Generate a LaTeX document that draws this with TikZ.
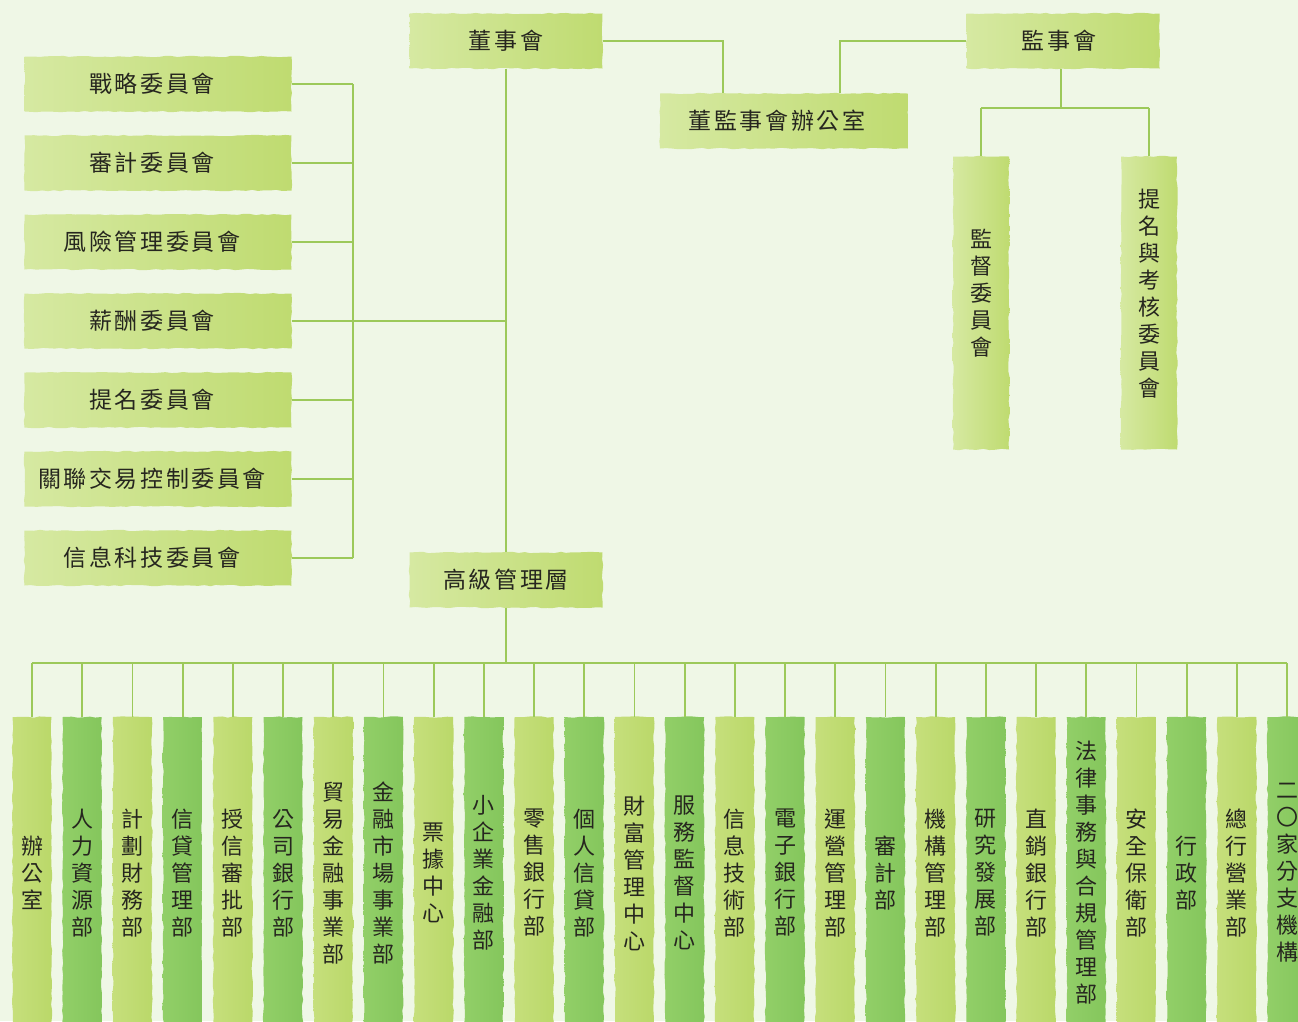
\documentclass[tikz,border=0pt]{standalone}
\usepackage{fontspec}
\setmainfont{Noto Sans CJK TC}
\usetikzlibrary{decorations.pathmorphing}
\definecolor{bg}{HTML}{EFF7E6}
\definecolor{ln}{HTML}{9CC95A}
\definecolor{txt}{HTML}{26261F}
\definecolor{hbL}{HTML}{D6E9A2}
\definecolor{hbR}{HTML}{BFDB70}
\definecolor{clL}{HTML}{C6DF7C}
\definecolor{clM}{HTML}{D6E898}
\definecolor{clR}{HTML}{BAD869}
\definecolor{cdL}{HTML}{92CF68}
\definecolor{cdM}{HTML}{AAD985}
\definecolor{cdR}{HTML}{84C65C}
\newcommand{\hfnt}{\fontsize{23pt}{27pt}\selectfont\addfontfeature{LetterSpace=11}}
\newcommand{\vfnt}{\fontsize{22pt}{27pt}\selectfont}
\newcommand{\lsh}[2]{\hspace*{-#1pt}#2}
\begin{document}
\begin{tikzpicture}[x=1pt,y=-1pt,
  rough/.style={decorate,decoration={random steps,segment length=6pt,amplitude=0.7pt}},
  hbox/.style={rough,left color=hbL,right color=hbR,minimum width=193pt,minimum height=55pt,
    inner sep=0pt,font=\hfnt,text=txt},
  cbox/.style={hbox,minimum width=267pt},
  vbox/.style={rough,left color=hbL,right color=hbR,minimum width=56pt,minimum height=293pt,
    inner sep=0pt,font=\vfnt,text=txt,align=center},
  colL/.style={rough,left color=clL,middle color=clM,right color=clR,minimum width=39pt,minimum height=312pt,
    inner sep=0pt,font=\vfnt,text=txt,align=center},
  colD/.style={colL,left color=cdL,middle color=cdM,right color=cdR},
  conn/.style={draw=ln,line width=1.8pt}]
\fill[bg] (0,0) rectangle (1298,1021);
\useasboundingbox (0,0) rectangle (1298,1021);

% top level
\node[hbox] (dsh) at (506,41) {董事會};
\node[hbox,minimum width=248pt] (ofc) at (784,121) {\lsh{14}{董監事會辦公室}};
\node[hbox] (jsh) at (1063,41) {\lsh{8}{監事會}};
\node[hbox] (gm) at (506,580) {高級管理層};

% committees
\foreach \t [count=\i] in {戰略委員會,審計委員會,風險管理委員會,薪酬委員會,提名委員會,關聯交易控制委員會,信息科技委員會}{
  \node[cbox] (c\i) at (158,{84+(\i-1)*79}) {\lsh{12}{\t}};
}

% supervisory committees
\node[vbox] (s1) at (981,303) {監\\督\\委\\員\\會\\[-6pt]\mbox{}};
\node[vbox] (s2) at (1149,303) {提\\名\\與\\考\\核\\委\\員\\會\\[-6pt]\mbox{}};

% departments
\foreach \t [count=\i] in {
  {辦\\公\\室},{人\\力\\資\\源\\部},{計\\劃\\財\\務\\部},{信\\貸\\管\\理\\部},
  {授\\信\\審\\批\\部},{公\\司\\銀\\行\\部},{貿\\易\\金\\融\\事\\業\\部},{金\\融\\市\\場\\事\\業\\部},
  {票\\據\\中\\心},{小\\企\\業\\金\\融\\部},{零\\售\\銀\\行\\部},{個\\人\\信\\貸\\部},
  {財\\富\\管\\理\\中\\心},{服\\務\\監\\督\\中\\心},{信\\息\\技\\術\\部},{電\\子\\銀\\行\\部},
  {運\\營\\管\\理\\部},{審\\計\\部},{機\\構\\管\\理\\部},{研\\究\\發\\展\\部},
  {直\\銷\\銀\\行\\部},{法\\律\\事\\務\\與\\合\\規\\管\\理\\部},{安\\全\\保\\衛\\部},{行\\政\\部},
  {總\\行\\營\\業\\部},{二\\〇\\家\\分\\支\\機\\構}}{
  \ifodd\i\def\cst{colL}\else\def\cst{colD}\fi
  \node[\cst] (col\i) at ({32+(\i-1)*50.2},873) {\t};
}

% connectors top
\draw[conn] (dsh.east) -| ([xshift=63pt]ofc.north west);
\draw[conn] (jsh.west) -| ([xshift=-68pt]ofc.north east);
\draw[conn] (dsh.south) -- (gm.north);

\coordinate (lbus) at (353,321);
\foreach \i in {1,...,7}{\draw[conn] (c\i.east) -- (c\i.east -| lbus);}
\draw[conn] (c1.east -| lbus) -- (c7.east -| lbus);
\draw[conn] (c4.east -| lbus) -- (c4.east -| dsh.south);

\coordinate (sbus) at (1061,108);
\draw[conn] (jsh.south -| sbus) -- (sbus);
\draw[conn] (s1.north |- sbus) -- (s2.north |- sbus);
\draw[conn] (s1.north |- sbus) -- (s1.north);
\draw[conn] (s2.north |- sbus) -- (s2.north);

\coordinate (bbus) at (506,663);
\draw[conn] (gm.south) -- (bbus);
\draw[conn] (col1.north |- bbus) -- (col26.north |- bbus);
\foreach \i in {1,...,26}{\draw[conn] (col\i.north |- bbus) -- (col\i.north);}
\end{tikzpicture}
\end{document}
